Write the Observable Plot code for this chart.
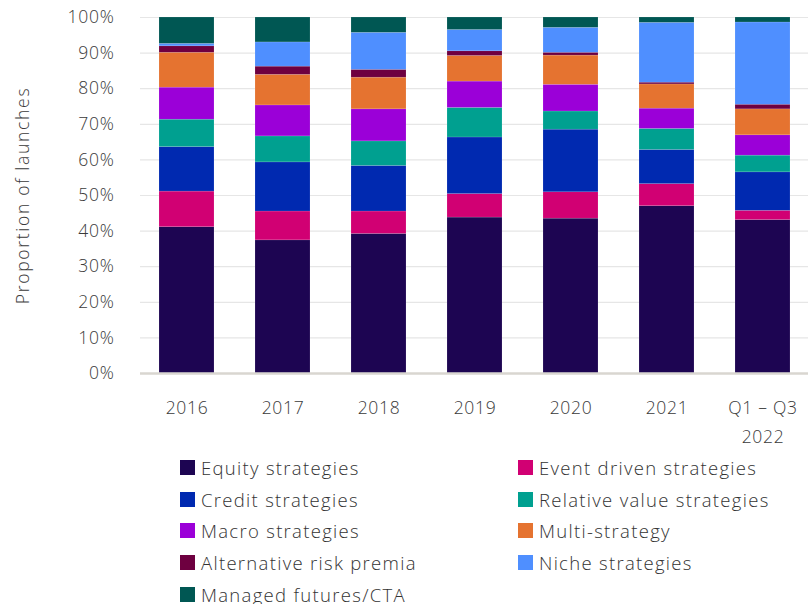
<!DOCTYPE html>
<html>
<head>
<meta charset="utf-8">
<script src="https://cdn.jsdelivr.net/npm/d3@7"></script>
<script src="https://cdn.jsdelivr.net/npm/@observablehq/plot@0.6"></script>
<style>
  html, body { margin: 0; padding: 0; background: #fff; }
  body { width: 808px; height: 604px; overflow: hidden; font-family: "Open Sans", Roboto, sans-serif; font-weight: 300; }
  #legend { position: absolute; left: 180px; top: 452px; display: grid; grid-template-columns: 338px 300px; row-gap: 0px; }
  .item { display: flex; align-items: center; height: 31.6px; font-size: 18.5px; letter-spacing: 1.3px; color: #333; white-space: nowrap; }
  .sw { width: 15px; height: 15px; margin-right: 6px; flex: none; }
  svg text { letter-spacing: 0.7px; }
  svg .ylab text { letter-spacing: 1.7px; }
</style>
</head>
<body>
<div id="chart"></div>
<div id="legend"></div>
<script>
const years = ["2016", "2017", "2018", "2019", "2020", "2021", "Q1 – Q3\n2022"];
const series = [
  "Equity strategies", "Event driven strategies", "Credit strategies",
  "Relative value strategies", "Macro strategies", "Multi-strategy",
  "Alternative risk premia", "Niche strategies", "Managed futures/CTA"
];
const colors = ["#1d0552", "#d10073", "#0029b0", "#00a090", "#9b00d8", "#e57330", "#6e0040", "#4f8fff", "#005753"];
// values in percent, one per year (same order as years)
const equity      = [41.1, 37.4, 39.2, 43.8, 43.5, 47.0, 43.1];
const eventDriven = [10.0,  8.1,  6.3,  6.6,  7.4,  6.2,  2.6];
const credit      = [12.5, 13.8, 12.8, 15.9, 17.6,  9.6, 10.8];
const relValue    = [ 7.7,  7.3,  6.9,  8.3,  5.1,  5.9,  4.7];
const macro       = [ 9.0,  8.7,  9.0,  7.4,  7.5,  5.7,  5.7];
const multi       = [ 9.8,  8.6,  8.9,  7.2,  8.2,  6.8,  7.3];
const arp         = [ 1.8,  2.3,  2.2,  1.3,  0.8,  0.5,  1.3];
const niche       = [ 0.7,  6.8, 10.4,  6.0,  7.0, 16.8, 23.1];
const managed     = [ 7.4,  7.0,  4.3,  3.5,  2.9,  1.5,  1.4];
const yTicks = [0, 10, 20, 30, 40, 50, 60, 70, 80, 90, 100];

const valueArrays = [equity, eventDriven, credit, relValue, macro, multi, arp, niche, managed];
const data = [];
years.forEach((yr, i) => {
  series.forEach((s, j) => data.push({year: yr, series: s, value: valueArrays[j][i]}));
});

const chart = Plot.plot({
  width: 808,
  height: 450,
  marginLeft: 140,
  marginRight: 0,
  marginTop: 17,
  marginBottom: 77,
  style: {fontFamily: "'Open Sans', Roboto, sans-serif", fontSize: "17px", color: "#3a3a3a", fontWeight: 300, overflow: "visible"},
  x: {domain: years, paddingInner: 0.43, paddingOuter: 0.18, label: null},
  y: {domain: [0, 100], label: null},
  color: {domain: series, range: colors},
  marks: [
    Plot.gridY(yTicks, {stroke: "#e6e6e6", strokeOpacity: 1, strokeWidth: 1.2}),
    Plot.barY(data, {x: "year", y: "value", fill: "series", order: series, stroke: "rgba(255,255,255,0.25)", strokeWidth: 0.5}),
    Plot.ruleY([0], {stroke: "#d9d6d0", strokeWidth: 2.5}),
    Plot.axisY(yTicks, {tickSize: 0, tickPadding: 26, tickFormat: d => d + "%", label: null, fontSize: 17.5}),
    Plot.axisX({tickSize: 0, tickPadding: 20, label: null, lineHeight: 1.65, fontSize: 17.5}),
    Plot.text(["Proportion of launches"], {frameAnchor: "left", textAnchor: "middle", dx: -117, rotate: -90, fontSize: 17.5, fill: "#3a3a3a", className: "ylab"})
  ]
});
document.getElementById("chart").appendChild(chart);

const legend = document.getElementById("legend");
series.forEach((s, j) => {
  const it = document.createElement("div");
  it.className = "item";
  const sw = document.createElement("span");
  sw.className = "sw";
  sw.style.background = colors[j];
  const t = document.createElement("span");
  t.textContent = s;
  it.appendChild(sw);
  it.appendChild(t);
  legend.appendChild(it);
});
</script>
</body>
</html>
